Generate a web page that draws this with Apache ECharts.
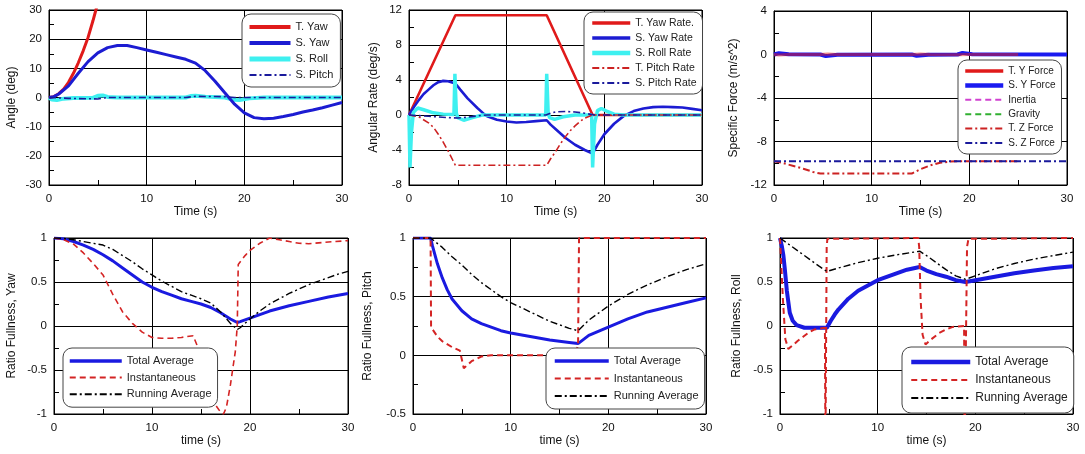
<!DOCTYPE html>
<html><head><meta charset="utf-8">
<script src="https://cdn.jsdelivr.net/npm/echarts@6/dist/echarts.min.js"></script>
<style>html,body{margin:0;padding:0;background:#fff}#c{width:1085px;height:454px}</style>
</head><body><div id="c"></div>
<script>
// ---------- Panel 1: Angle ----------
const p1_tYaw = [[0,0],[0.5,0.3],[1,1.3],[1.5,2.9],[2,5.2],[2.5,8.3],[3,11.9],[3.5,16],[4,20.6],[4.5,26.3],[4.8,30],[5,32.5]];
const p1_sYaw = [[0,0],[0.5,0.3],[1,1.2],[2,4],[3,8.3],[4,12.3],[5,15.3],[6,17.1],[7,17.8],[8,17.8],[9,17.1],[10,16.3],[11,15.5],[12,14.7],[13,13.9],[14,13.1],[15,11.8],[16,9.2],[17,5.6],[18,1.6],[19,-2.3],[20,-5.3],[21,-6.9],[22,-7.3],[23,-7.1],[24,-6.5],[25,-5.8],[26,-5.0],[27,-4.3],[28,-3.5],[29,-2.6],[30,-1.7]];
const p1_sRoll = [[0,0],[0.3,-0.7],[0.8,-0.9],[1.5,-0.4],[2.5,-0.2],[4.5,-0.1],[5,0.6],[5.5,0.7],[6,0.2],[7,0],[14,0],[14.5,0.5],[15,0.6],[16,0.3],[18,0],[19,-0.8],[19.5,-0.9],[20.5,-0.3],[22,0],[30,0]];
const p1_sPitch = [[0,0],[2,-0.3],[5,-0.5],[6,0],[14,0],[15,0.4],[18,0.3],[19,0],[30,0]];

// ---------- Panel 2: Angular rate ----------
const p2_tYawRate = [[0,0],[4.75,11.4],[14.1,11.4],[18.8,0],[30,0]];
const p2_sYawRate = [[0,0],[0.5,0.9],[1,1.7],[1.5,2.4],[2,2.9],[2.5,3.4],[3,3.75],[3.5,3.9],[4,3.85],[4.75,3.6],[5.25,2.9],[6,1.9],[7,0.8],[7.7,0.1],[8,-0.15],[9,-0.55],[10,-0.75],[11,-0.85],[12,-0.8],[13,-0.7],[14.1,-0.6],[14.5,-1.1],[15,-1.6],[16,-2.6],[17,-3.4],[18,-4.0],[18.8,-4.4],[19.3,-3.4],[20,-2.2],[21,-1.0],[22,-0.1],[23,0.45],[24,0.75],[25,0.9],[26,0.95],[27,0.9],[28,0.85],[29,0.7],[30,0.55]];
const p2_sRollRate = [[0,0],[0.1,-6],[0.25,-2],[0.45,0.3],[0.9,0.8],[1.5,0.6],[2.5,0.25],[3.5,0.1],[4.6,0.05],[4.7,4.7],[4.85,0.2],[5,-0.3],[5.6,-0.6],[6.5,-0.3],[7.5,0],[14,0],[14.1,4.7],[14.25,0.2],[14.4,-0.3],[14.9,-0.5],[15.8,-0.2],[17,0],[18.7,0],[18.8,-6],[19.0,-1],[19.3,0.5],[19.7,0.75],[20.3,0.4],[21,0.1],[22,0],[30,0]];
const p2_tPitchRate = [[0,0],[1,-0.2],[2,-0.9],[2.5,-1.4],[3,-2.2],[3.5,-3.1],[4,-4.1],[4.5,-5.2],[4.75,-5.75],[14.1,-5.75],[14.5,-5.0],[15,-4.2],[15.5,-3.3],[16,-2.5],[16.5,-1.8],[17,-1.25],[17.5,-0.75],[18,-0.35],[18.8,0],[30,0]];
const p2_sPitchRate = [[0,0],[2,-0.15],[4,-0.3],[5,-0.35],[6,-0.25],[7,-0.1],[8,0],[14,0],[14.5,0.2],[15,0.35],[16,0.4],[17,0.35],[18,0.2],[19,0],[30,0]];

// ---------- Panel 3: Specific force ----------
const p3_tYForce = [[0,0],[0.5,-0.04],[1.5,0],[4.75,0],[5.5,0.05],[6.5,0],[14.1,0],[15,0.05],[16,0],[19,-0.03],[20,0],[25,0]];
const p3_sYForce = [[0,0],[0.5,0.12],[1.5,0.02],[4.75,0],[5.3,-0.15],[6.5,-0.02],[14.1,0],[14.6,-0.12],[15.8,-0.02],[18.8,0],[19.3,0.15],[20.3,0.02],[30,0]];
const p3_inertia = [];
const p3_gravity = [];
const p3_tZForce = [[0,-9.81],[1,-10.0],[2,-10.25],[3,-10.5],[4,-10.8],[4.75,-10.95],[14.1,-10.95],[15,-10.55],[16,-10.2],[17,-9.95],[18,-9.85],[19,-9.81],[25,-9.81]];
const p3_sZForce = [[0,-9.81],[30,-9.81]];

// ---------- Panel 4: Ratio fullness, Yaw ----------
const p4_total = [[0,1],[1,0.99],[2,0.96],[3,0.92],[4,0.87],[5,0.81],[6,0.74],[7,0.66],[8,0.58],[9,0.5],[10,0.44],[11,0.39],[12,0.35],[13,0.31],[14,0.28],[15,0.25],[16,0.21],[17,0.15],[18,0.08],[18.7,0.04],[19,0.05],[20,0.09],[21,0.13],[22,0.17],[24,0.23],[26,0.28],[28,0.33],[30,0.37]];
const p4_inst = [[0,1],[1,0.98],[2,0.93],[3,0.83],[4,0.71],[5,0.58],[6,0.36],[7,0.16],[8,0.03],[9,-0.07],[10,-0.13],[11,-0.14],[12,-0.14],[13,-0.13],[14.2,-0.11],[14.6,-0.22],[15,-0.38],[15.5,-0.56],[16,-0.74],[16.5,-0.9],[17,-0.98],[17.3,-1.0],[17.6,-0.92],[18,-0.67],[18.5,-0.29],[18.7,0.0],[18.8,0.7],[19.5,0.8],[20,0.86],[21,0.94],[22,1.0],[23,0.98],[24,0.96],[25,0.94],[26,0.935],[27,0.945],[28,0.955],[30,0.97]];
const p4_running = [[0,1],[1,0.995],[2,0.98],[3,0.96],[4,0.94],[5,0.92],[6,0.87],[7,0.8],[8,0.73],[9,0.65],[10,0.58],[11,0.51],[12,0.45],[13,0.39],[14,0.35],[15,0.31],[16,0.26],[17,0.16],[18,0.03],[18.7,-0.04],[19,-0.02],[20,0.08],[21,0.17],[22,0.25],[23,0.31],[24,0.37],[25,0.42],[26,0.47],[27,0.51],[28,0.55],[29,0.59],[30,0.62]];

// ---------- Panel 5: Ratio fullness, Pitch ----------
const p5_total = [[0,1],[1.8,1],[2,0.93],[2.5,0.78],[3,0.66],[3.5,0.56],[4,0.48],[5,0.38],[6,0.31],[7,0.27],[8,0.24],[9,0.21],[10,0.19],[12,0.16],[14,0.13],[16,0.11],[16.9,0.1],[18,0.17],[20,0.24],[22,0.31],[24,0.37],[26,0.41],[28,0.45],[30,0.49]];
const p5_inst = [[0,1],[1.8,1],[1.85,0.24],[2.5,0.16],[3,0.12],[4,0.07],[4.8,0.04],[5.2,-0.11],[6,-0.05],[7,-0.01],[8,0],[16.5,0],[16.9,0.08],[17.0,1],[30,1]];
const p5_running = [[0,1],[1.8,1],[2,0.99],[3,0.92],[4,0.84],[5,0.77],[6,0.69],[7,0.62],[8,0.56],[9,0.5],[10,0.45],[11,0.41],[12,0.37],[13,0.33],[14,0.29],[15,0.26],[16,0.23],[16.9,0.21],[18,0.3],[19,0.36],[20,0.42],[22,0.52],[24,0.6],[26,0.67],[28,0.73],[30,0.78]];

// ---------- Panel 6: Ratio fullness, Roll ----------
const p6_total = [[0,1],[0.2,0.9],[0.35,0.8],[0.5,0.64],[0.7,0.4],[1,0.15],[1.3,0.06],[1.7,0.01],[2.5,-0.02],[4.8,-0.02],[5.2,0.06],[5.6,0.13],[6,0.19],[7,0.31],[8,0.4],[9,0.46],[10,0.52],[11,0.56],[12,0.6],[13,0.64],[14.3,0.67],[15,0.63],[16,0.59],[17,0.56],[18,0.52],[19,0.5],[20,0.52],[22,0.56],[24,0.6],[26,0.63],[28,0.66],[30,0.68]];
const p6_inst = [[0,1],[0.3,0.3],[0.55,-0.15],[0.85,-0.26],[1.3,-0.22],[1.8,-0.17],[2.4,-0.12],[3,-0.07],[3.5,-0.04],[4.6,-0.02],[4.65,-1.5],[4.75,-1.5],[4.78,0.9],[4.85,0.99],[5.0,1],[14.15,1],[14.25,0.9],[14.4,0.3],[14.6,-0.1],[14.9,-0.21],[15.5,-0.15],[16.3,-0.08],[17,-0.04],[17.7,-0.01],[18.85,0],[18.9,-1.5],[19.0,-1.5],[19.15,0.9],[19.3,0.99],[19.5,1],[30,1]];
const p6_running = [[0,1],[1,0.92],[2,0.84],[3,0.76],[4,0.68],[4.8,0.62],[6,0.66],[8,0.72],[10,0.77],[12,0.81],[14.3,0.85],[15,0.8],[16,0.72],[17,0.64],[18,0.57],[19,0.53],[20,0.57],[22,0.65],[24,0.71],[26,0.76],[28,0.8],[30,0.84]];

// ---------- axis ranges / titles ----------
const xTitlesTop = 'Time (s)';
const xTitlesBottom = 'time (s)';
const yTitles = ['Angle (deg)','Angular Rate (deg/s)','Specific Force (m/s^2)','Ratio Fullness, Yaw','Ratio Fullness, Pitch','Ratio Fullness, Roll'];
const yRanges = [[-30,30,10],[-8,12,4],[-12,4,4],[-1,1,0.5],[-0.5,1,0.5],[-1,1,0.5]];

const FONT = '"Liberation Sans", Arial, sans-serif';
const RED = '#e01a1a', BLUE = '#1c1cd2', CYAN = '#3ef0f0', NAVY = '#1a1a9c', DRED = '#cc2222';
const BLUE2 = '#1a1ae0', RED2 = '#d42424';
const DASHDOT = [7,3,2,3];
const DASH = [6,4];

const grids = [
  {left:49, top:10, width:293, height:175},
  {left:409, top:10, width:293, height:175},
  {left:774, top:11, width:293, height:174},
  {left:54, top:238, width:294, height:176},
  {left:413, top:238, width:293, height:176},
  {left:780, top:238, width:293, height:176}
].map(g => Object.assign(g, {show:true, borderColor:'#000', borderWidth:1, backgroundColor:'#fff'}));

const yNameGaps = [31, 29, 34, 36, 39, 37];

function baseAxis() {
  return {
    type:'value',
    axisLine:{show:true, onZero:false, lineStyle:{color:'#000', width:1}},
    axisTick:{show:true, inside:true, length:5, lineStyle:{color:'#000'}},
    minorTick:{show:true, splitNumber:2, length:5, lineStyle:{color:'#000'}},
    splitLine:{show:true, lineStyle:{color:'#000', width:1}},
    nameTextStyle:{fontFamily:FONT, fontSize:12, color:'#111'},
    nameLocation:'middle'
  };
}
const xAxes = grids.map((g,i) => Object.assign(baseAxis(), {
  gridIndex:i, min:0, max:30, interval:10,
  name: i < 3 ? xTitlesTop : xTitlesBottom, nameGap:21,
  axisLabel:{fontFamily:FONT, fontSize:11.5, color:'#111', margin:8}
}));
const yAxes = grids.map((g,i) => Object.assign(baseAxis(), {
  gridIndex:i, min:yRanges[i][0], max:yRanges[i][1], interval:yRanges[i][2],
  name: yTitles[i], nameGap: yNameGaps[i],
  axisLabel:{fontFamily:FONT, fontSize:11.5, color:'#111', margin:7}
}));

function ln(name, data, gi, color, width, type, opacity) {
  return {
    type:'line', name:name, data:data, xAxisIndex:gi, yAxisIndex:gi,
    symbol:'none', showSymbol:false, animation:false, clip:true,
    color:color,
    lineStyle:{color:color, width:width, type:type || 'solid', opacity:opacity == null ? 1 : opacity}
  };
}

const series = [
  ln('S. Roll', p1_sRoll, 0, CYAN, 4),
  ln('T. Yaw', p1_tYaw, 0, RED, 3),
  ln('S. Yaw', p1_sYaw, 0, BLUE, 3),
  ln('S. Pitch', p1_sPitch, 0, NAVY, 1.6, DASHDOT),

  ln('T. Yaw Rate.', p2_tYawRate, 1, RED, 2.6),
  ln('S. Yaw Rate', p2_sYawRate, 1, BLUE, 2.6),
  ln('S. Roll Rate', p2_sRollRate, 1, CYAN, 3.5),
  ln('T. Pitch Rate', p2_tPitchRate, 1, DRED, 1.6, DASHDOT),
  ln('S. Pitch Rate', p2_sPitchRate, 1, NAVY, 1.6, DASHDOT),

  ln('S. Y Force', p3_sYForce, 2, '#1a1af0', 4),
  ln('T. Y Force', p3_tYForce, 2, RED, 3, 'solid', 0.5),
  ln('Inertia', p3_inertia, 2, '#d040d0', 1.6, DASH),
  ln('Gravity', p3_gravity, 2, '#30b030', 1.6, DASH),
  ln('T. Z Force', p3_tZForce, 2, DRED, 2, DASHDOT),
  ln('S. Z Force', p3_sZForce, 2, NAVY, 2, DASHDOT),

  ln('Total Average', p4_total, 3, BLUE2, 3),
  ln('Instantaneous', p4_inst, 3, RED2, 1.6, DASH),
  ln('Running Average', p4_running, 3, '#000', 1.4, DASHDOT),

  ln('Total Average', p5_total, 4, BLUE2, 3),
  ln('Instantaneous', p5_inst, 4, RED2, 2, DASH),
  ln('Running Average', p5_running, 4, '#000', 1.4, DASHDOT),

  ln('Total Average', p6_total, 5, BLUE2, 4),
  ln('Instantaneous', p6_inst, 5, RED2, 2, DASH),
  ln('Running Average', p6_running, 5, '#000', 1.4, DASHDOT)
];

function item(name, width, color) {
  const o = {name:name, lineStyle:{width:width, opacity:1}};
  if (color) o.lineStyle.color = color;
  return o;
}
function lg(left, top, items, fontSize, spacing, padding, iconW) {
  return {
    orient:'vertical', left:left, top:top, selectedMode:false,
    itemWidth:iconW, itemHeight:12, itemGap:spacing - 12,
    itemStyle:{opacity:0, borderWidth:0},
    backgroundColor:'#fff', borderColor:'#444', borderWidth:1, borderRadius:9,
    padding:padding,
    textStyle:{fontFamily:FONT, fontSize:fontSize, color:'#222', lineHeight:12},
    data:items
  };
}
const legends = [
  lg(242, 14, [item('T. Yaw',4),item('S. Yaw',4),item('S. Roll',5),item('S. Pitch',2)], 11, 16, [7,7,6,5], 41),
  lg(584, 12, [item('T. Yaw Rate.',3.5),item('S. Yaw Rate',3.5),item('S. Roll Rate',4.5),item('T. Pitch Rate',2),item('S. Pitch Rate',2)], 10.5, 15, [5,6,5,6], 38),
  lg(958, 60, [item('T. Y Force',3.5,RED),item('S. Y Force',4.5),item('Inertia',2),item('Gravity',2),item('T. Z Force',2),item('S. Z Force',2)], 10, 14.4, [5,6,5,5], 38),
  lg(63, 348, [item('Total Average',3.5),item('Instantaneous',2),item('Running Average',2)], 11, 16.6, [7,6,7,5], 52),
  lg(546, 348, [item('Total Average',3.5),item('Instantaneous',2.2),item('Running Average',2)], 11, 17.5, [7,6,7,7], 54),
  lg(902, 347, [item('Total Average',4.5),item('Instantaneous',2.2),item('Running Average',2)], 12, 18, [9,6,9,7], 59)
];

const chart = echarts.init(document.getElementById('c'), null, {renderer:'canvas'});
chart.setOption({
  animation:false,
  backgroundColor:'#fff',
  grid:grids, xAxis:xAxes, yAxis:yAxes, legend:legends, series:series
});
</script>
</body></html>
